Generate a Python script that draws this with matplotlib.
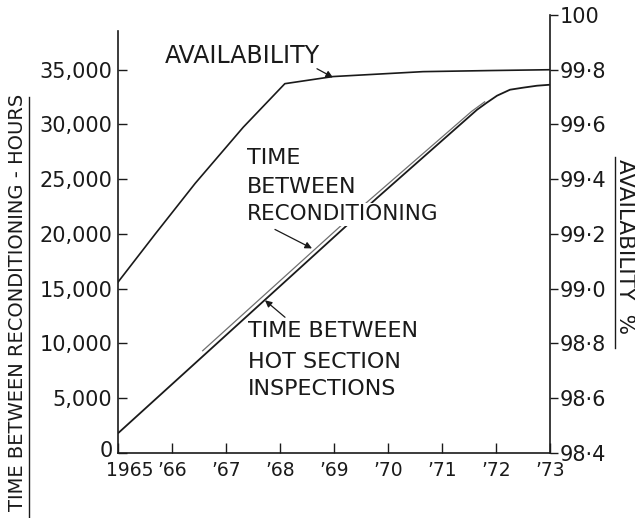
import matplotlib
matplotlib.use("Agg")
import matplotlib.pyplot as plt
import matplotlib.transforms as mtransforms
from matplotlib.lines import Line2D

# --- data ---
year_ticks = [1965, 1966, 1967, 1968, 1969, 1970, 1971, 1972, 1973]
year_labels = ["1965", "’66", "’67", "’68", "’69", "’70", "’71", "’72", "’73"]

hour_ticks = [0, 5000, 10000, 15000, 20000, 25000, 30000, 35000]
hour_labels = ["0", "5,000", "10,000", "15,000", "20,000", "25,000", "30,000", "35,000"]

avail_ticks = [98.4, 98.6, 98.8, 99.0, 99.2, 99.4, 99.6, 99.8, 100.0]
avail_labels = ["98·4", "98·6", "98·8", "99·0", "99·2", "99·4", "99·6", "99·8", "100"]

# time between hot section inspections (hours)
hsi_years = [1965.0, 1968.06, 1969.8, 1971.65, 1971.83, 1972.02, 1972.26, 1972.5, 1972.76, 1973.0]
hsi_hours = [1800, 15500, 23300, 31350, 31990, 32630, 33175, 33360, 33540, 33630]

# time between reconditioning (hours)
tbr_years = [1966.56, 1969.61, 1971.55, 1971.8]
tbr_hours = [9300, 22900, 31200, 32100]

# availability (%)
avail_years = [1965.0, 1965.69, 1966.43, 1967.32, 1968.09, 1968.98, 1970.65, 1971.9, 1973.0]
avail_pct = [99.024, 99.200, 99.385, 99.590, 99.749, 99.775, 99.793, 99.797, 99.80]


def main() -> None:
    plt.rcParams["font.family"] = ["DejaVu Sans"]
    fig = plt.figure(figsize=(6.35, 5.18), dpi=100)
    ax = fig.add_axes([0.1858, 0.1255, 0.6803, 0.8456])
    ax2 = ax.twinx()

    ink = "#1a1a1a"

    ax.plot(hsi_years, hsi_hours, color=ink, lw=1.3, solid_capstyle="butt")
    ax.plot(tbr_years, tbr_hours, color="#707070", lw=0.9, solid_capstyle="butt")
    ax2.plot(avail_years, avail_pct, color=ink, lw=1.2)

    ax.set_xlim(1965, 1973)
    ax.set_ylim(0, 40000)
    ax2.set_ylim(98.4, 100)

    ax.set_xticks(year_ticks)
    ax.set_xticklabels(year_labels, fontsize=13.5)
    ax.set_yticks(hour_ticks)
    ax.set_yticklabels(hour_labels, fontsize=15)
    ax2.set_yticks(avail_ticks)
    ax2.set_yticklabels(avail_labels, fontsize=15)

    ax.tick_params(axis="x", direction="in", length=7, width=1.0, pad=6, colors=ink)
    ax.tick_params(axis="y", direction="in", length=6.5, width=1.0, pad=4, colors=ink)
    ax2.tick_params(axis="y", direction="out", length=6, width=1.0, pad=1, colors=ink)

    # "1965" sits a little right of the corner, the "0" a touch higher
    first = ax.get_xticklabels()[0]
    first.set_transform(first.get_transform() +
                        mtransforms.ScaledTranslation(12 / 100, 0, fig.dpi_scale_trans))
    zero = ax.get_yticklabels()[0]
    zero.set_transform(zero.get_transform() +
                       mtransforms.ScaledTranslation(0, 4 / 100, fig.dpi_scale_trans))

    for s in ("top", "right"):
        ax.spines[s].set_visible(False)
    for s in ("top", "left", "bottom"):
        ax2.spines[s].set_visible(False)
    ax.spines["left"].set_bounds(0, 38500)
    for sp in (ax.spines["left"], ax.spines["bottom"], ax2.spines["right"]):
        sp.set_linewidth(1.2)
        sp.set_color(ink)

    # --- curve labels and pointers ---
    ax.text(1965.87, 36270, "AVAILABILITY", fontsize=17, va="center", ha="left", color=ink)
    ax.annotate("", xy=(1968.98, 34300), xytext=(1968.685, 35090),
                arrowprops=dict(arrowstyle="-|>", color=ink, lw=0.9,
                                mutation_scale=10, shrinkA=0, shrinkB=0))

    ax.text(1967.39, 26930, "TIME", fontsize=16, va="center", ha="left", color=ink)
    ax.text(1967.39, 24330, "BETWEEN", fontsize=16, va="center", ha="left", color=ink)
    ax.text(1967.39, 21780, "RECONDITIONING", fontsize=15.5, va="center", ha="left", color=ink,
            bbox=dict(facecolor="white", edgecolor="none", pad=1), zorder=5)
    ax.annotate("", xy=(1968.593, 18685), xytext=(1967.907, 20415),
                arrowprops=dict(arrowstyle="-|>", color=ink, lw=0.9,
                                mutation_scale=10, shrinkA=0, shrinkB=0))

    ax.text(1967.41, 11120, "TIME BETWEEN", fontsize=16, va="center", ha="left", color=ink)
    ax.text(1967.41, 8290, "HOT SECTION", fontsize=16, va="center", ha="left", color=ink)
    ax.text(1967.41, 5830, "INSPECTIONS", fontsize=16, va="center", ha="left", color=ink)
    ax.annotate("", xy=(1967.722, 13945), xytext=(1968.093, 12395),
                arrowprops=dict(arrowstyle="-|>", color=ink, lw=0.9,
                                mutation_scale=10, shrinkA=0, shrinkB=0))

    # --- axis titles (underlined, as drawn) ---
    fig.text(0.027, 0.417, "TIME BETWEEN RECONDITIONING - HOURS", rotation=90,
             fontsize=14, ha="center", va="center", color=ink)
    fig.add_artist(Line2D([0.0449, 0.0449], [0.0, 0.8127], transform=fig.transFigure,
                          color=ink, lw=1.0))
    fig.text(0.984, 0.524, "AVAILABILITY  %", rotation=270,
             fontsize=15.5, ha="center", va="center", color=ink)
    fig.add_artist(Line2D([0.9685, 0.9685], [0.328, 0.697], transform=fig.transFigure,
                          color=ink, lw=1.0))

    fig.savefig("out.png", dpi=100, facecolor="white")


if __name__ == "__main__":
    main()
